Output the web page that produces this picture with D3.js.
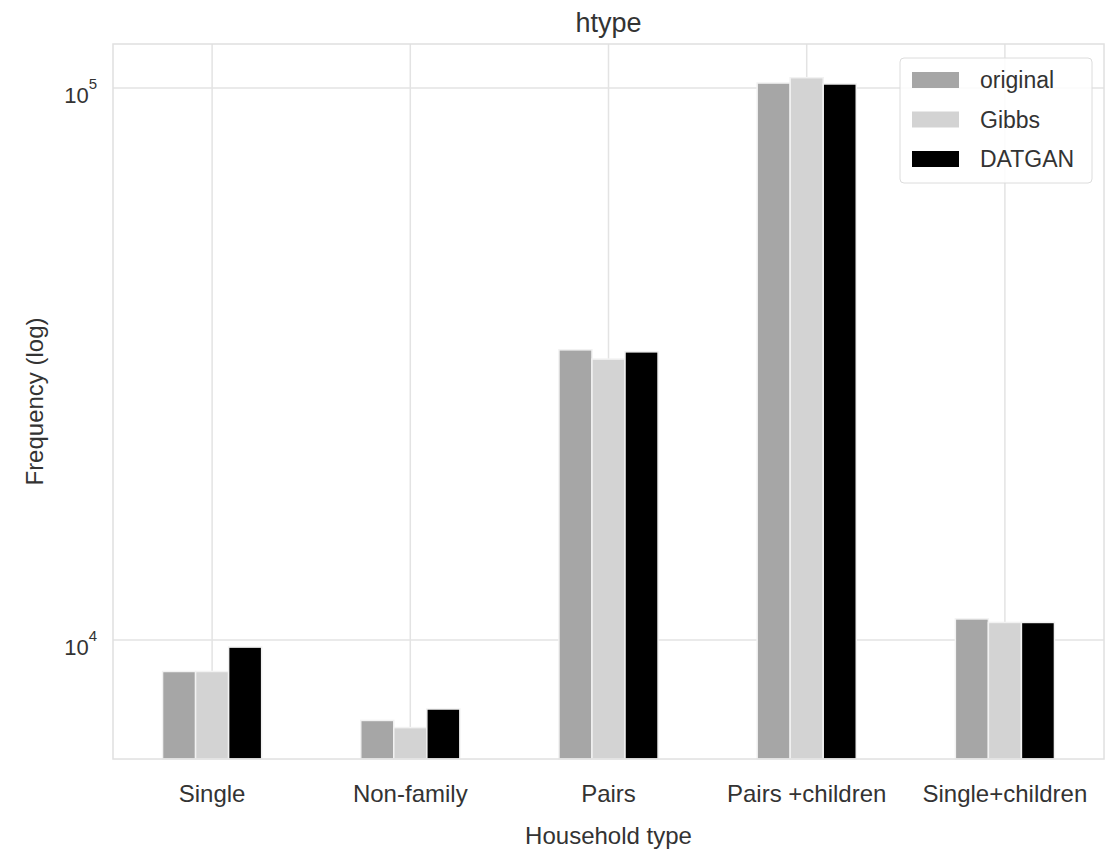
<!DOCTYPE html>
<html>
<head>
<meta charset="utf-8">
<title>htype</title>
<style>
  body { margin: 0; background: #fff; }
  text { font-family: "Liberation Sans", Arial, sans-serif; fill: #333; }
</style>
</head>
<body>
<svg id="chart"></svg>
<script src="https://d3js.org/d3.v7.min.js"></script>
<script>
var categories = ["Single", "Non-family", "Pairs", "Pairs +children", "Single+children"];
var series = ["original", "Gibbs", "DATGAN"];
var original = [8770, 7150, 33550, 102100, 10920];
var gibbs    = [8770, 6940, 32280, 104400, 10760];
var datgan   = [9710, 7500, 33270, 101700, 10760];
var colors = ["#a6a6a6", "#d3d3d3", "#000000"];
var yTicks = [1e4, 1e5];

var width = 1115, height = 857;
var margin = {top: 44, right: 11, bottom: 98, left: 113};
var w = width - margin.left - margin.right;
var h = height - margin.top - margin.bottom;

var svg = d3.select("#chart").attr("width", width).attr("height", height);
var g = svg.append("g").attr("transform", "translate(" + margin.left + "," + margin.top + ")");

var x = d3.scaleBand().domain(categories).range([0, w]);
var y = d3.scaleLog().domain([6088, 120150]).range([h, 0]);

var table = categories.map(function(c, i) {
  return {cat: c, vals: [original[i], gibbs[i], datgan[i]]};
});

// grid
g.selectAll(".vgrid").data(categories).enter().append("line")
  .attr("x1", function(d) { return x(d) + x.bandwidth() / 2; })
  .attr("x2", function(d) { return x(d) + x.bandwidth() / 2; })
  .attr("y1", 0).attr("y2", h)
  .attr("stroke", "#e3e3e3").attr("stroke-width", 1.5);
g.selectAll(".hgrid").data(yTicks).enter().append("line")
  .attr("x1", 0).attr("x2", w)
  .attr("y1", function(d) { return y(d); })
  .attr("y2", function(d) { return y(d); })
  .attr("stroke", "#e3e3e3").attr("stroke-width", 1.5);

// bars
var groupW = x.bandwidth() * 0.5;
var barW = groupW / 3;
var grp = g.selectAll(".grp").data(table).enter().append("g")
  .attr("transform", function(d) { return "translate(" + (x(d.cat) + x.bandwidth() / 2 - groupW / 2) + ",0)"; });
grp.selectAll("rect").data(function(d) { return d.vals; }).enter().append("rect")
  .attr("x", function(d, i) { return i * barW; })
  .attr("width", barW)
  .attr("y", function(d) { return y(d); })
  .attr("height", function(d) { return h - y(d); })
  .attr("fill", function(d, i) { return colors[i]; })
  .attr("stroke", "#f2f2f2").attr("stroke-width", 1.5);

// frame
g.append("rect").attr("x", 0).attr("y", 0).attr("width", w).attr("height", h)
  .attr("fill", "none").attr("stroke", "#e0e0e0").attr("stroke-width", 1.5);

// y tick labels
var yl = g.selectAll(".ytick").data(yTicks).enter().append("text")
  .attr("x", -16).attr("y", function(d) { return y(d) + 15; })
  .attr("text-anchor", "end").style("font-size", "22px");
yl.append("tspan").text("10");
yl.append("tspan").attr("dy", -14).style("font-size", "15px")
  .text(function(d) { return Math.round(Math.log10(d)); });

// x tick labels
g.selectAll(".xtick").data(categories).enter().append("text")
  .attr("x", function(d) { return x(d) + x.bandwidth() / 2; })
  .attr("y", h + 43)
  .attr("text-anchor", "middle").style("font-size", "24px")
  .text(function(d) { return d; });

// axis titles
svg.append("text").attr("x", margin.left + w / 2).attr("y", 844)
  .attr("text-anchor", "middle").style("font-size", "24px").text("Household type");
svg.append("text").attr("transform", "translate(43," + (margin.top + h / 2) + ") rotate(-90)")
  .attr("text-anchor", "middle").style("font-size", "24px").text("Frequency (log)");
svg.append("text").attr("x", margin.left + w / 2).attr("y", 32)
  .attr("text-anchor", "middle").style("font-size", "27px").text("htype");

// legend
var lg = svg.append("g").attr("transform", "translate(900,58)");
lg.append("rect").attr("width", 192).attr("height", 125).attr("rx", 4)
  .attr("fill", "#fff").attr("fill-opacity", 0.85).attr("stroke", "#dcdcdc");
var item = lg.selectAll(".item").data(series).enter().append("g")
  .attr("transform", function(d, i) { return "translate(12," + (22 + i * 39.5) + ")"; });
item.append("rect").attr("x", 0).attr("y", -8).attr("width", 47).attr("height", 16)
  .attr("fill", function(d, i) { return colors[i]; });
item.append("text").attr("x", 68).attr("y", 8).style("font-size", "23px")
  .text(function(d) { return d; });
</script>
</body>
</html>
